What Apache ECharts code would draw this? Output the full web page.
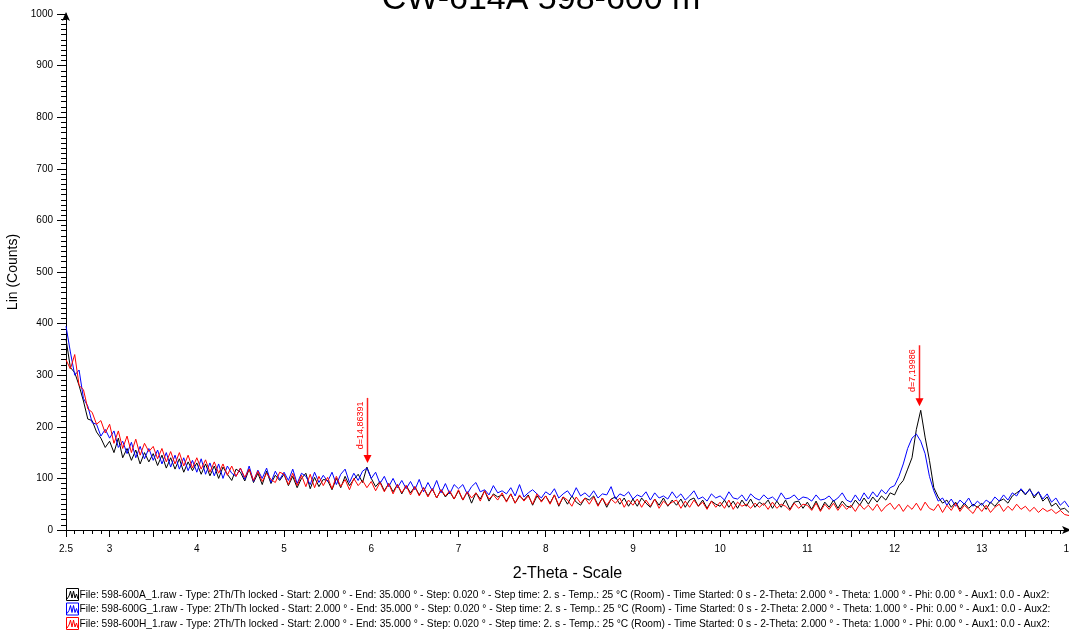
<!DOCTYPE html>
<html>
<head>
<meta charset="utf-8">
<script src="https://cdn.jsdelivr.net/npm/echarts@6/dist/echarts.min.js"></script>
<style>html,body{margin:0;padding:0;background:#fff}#c{width:1069px;height:633px}</style>
</head>
<body>
<div id="c"></div>
<script>
// 2-Theta sampling of the traces (degrees)
const thetaStart = 2.5;
const thetaStep = 0.05;
// Counts, file 598-600A (black)
const countsA = [
370,315,305,280,250,215,212,190,178,160,
172,150,178,140,158,135,155,128,150,132,
148,125,145,120,140,118,138,112,132,115,
130,108,128,105,124,100,122,108,96,118,
112,95,118,92,110,88,114,90,106,96,
108,86,104,82,100,110,80,102,84,98,
96,78,100,82,104,86,98,108,92,122,
100,84,94,76,90,74,88,70,86,72,
84,68,82,66,80,62,78,64,74,60,
76,58,74,52,72,60,76,56,70,64,
68,56,70,52,66,58,68,48,66,56,
66,52,68,46,64,50,66,54,48,62,
58,66,48,62,44,60,64,50,62,46,
60,46,62,52,44,60,48,62,46,58,
48,60,44,58,62,46,58,42,56,50,
46,58,44,56,42,58,46,60,44,54,
48,58,42,56,44,58,40,54,56,42,
54,40,56,38,54,44,58,42,56,46,
44,58,48,62,50,64,54,66,58,72,
68,86,96,118,140,195,232,180,135,82,
64,52,58,44,54,40,52,42,50,44,
52,40,54,46,56,60,52,66,72,78,
68,80,62,74,56,64,46,52,40,42,
34];
// Counts, file 598-600G (blue)
const countsG = [
395,345,300,310,255,240,208,205,182,195,
178,192,160,172,148,170,140,162,138,158,
135,155,128,150,122,145,118,140,115,135,
112,138,108,130,105,128,100,124,110,104,
120,98,124,94,116,100,120,92,114,98,
112,96,118,90,110,104,88,112,92,106,
94,112,88,108,118,92,110,96,114,120,
100,112,90,104,84,100,82,96,80,94,
78,98,74,92,76,96,72,90,70,88,
80,88,70,84,92,74,78,68,86,72,
76,70,82,66,88,64,72,78,70,62,
74,68,80,62,70,76,64,82,66,72,
64,76,62,70,68,84,60,70,66,74,
60,68,64,74,58,72,62,66,60,74,
62,70,58,66,76,60,64,56,70,62,
66,58,74,62,60,68,56,70,62,58,
68,60,64,56,72,60,62,68,58,64,
62,56,68,58,60,66,56,62,72,58,
54,68,56,72,60,74,64,78,70,82,
86,104,128,158,178,186,172,148,104,76,
56,62,48,60,46,58,50,62,46,56,
48,58,52,64,56,68,58,72,66,80,
70,78,66,74,60,70,54,62,48,56,
44];
// Counts, file 598-600H (red)
const countsH = [
330,312,340,280,272,235,228,205,212,188,
205,168,192,158,182,150,176,145,168,152,
162,138,158,132,152,128,150,124,145,120,
140,118,136,112,132,110,128,106,124,104,
120,102,118,96,114,94,110,98,92,112,
108,88,110,86,106,84,108,82,104,86,
102,80,104,84,98,78,100,86,96,82,
94,76,92,74,90,70,88,72,86,68,
84,66,82,64,80,62,78,66,76,60,
78,58,74,62,72,56,76,60,68,58,
72,54,70,52,68,56,66,50,70,54,
66,50,68,48,64,58,46,64,52,62,
50,64,46,62,48,60,52,62,44,58,
48,60,44,58,46,60,42,56,48,54,
58,42,56,44,58,46,54,40,56,44,
54,42,58,40,54,46,50,42,52,44,
52,40,54,42,50,46,38,52,42,50,
48,38,52,36,50,40,52,38,50,40,
48,36,50,40,48,38,50,36,46,52,
40,50,36,48,40,52,38,54,42,38,
50,34,48,38,52,36,48,40,32,46,
36,48,34,44,50,36,46,38,50,40,
46,36,44,34,42,36,40,32,38,30,
28];
// Peak annotations: 2-Theta position, top of marker line (counts), arrow tip (counts), label
const annTheta = [5.955, 12.278];
const annTop = [256, 358];
const annTip = [130, 240];
const annLabels = ['d=14,86391', 'd=7,19986'];
// Legend / files
const fileNames = ['598-600A_1.raw', '598-600G_1.raw', '598-600H_1.raw'];
const fileColors = ['#000000', '#0000ff', '#ff0000'];
const legendTail = ' - Type: 2Th/Th locked - Start: 2.000 ° - End: 35.000 ° - Step: 0.020 ° - Step time: 2. s - Temp.: 25 °C (Room) - Time Started: 0 s - 2-Theta: 2.000 ° - Theta: 1.000 ° - Phi: 0.00 ° - Aux1: 0.0 - Aux2:';
const titleText = 'CW-614A 598-600 m';

const FONT = '"Liberation Sans", Arial, sans-serif';
function pairs(arr) { return arr.map((v, i) => [+(thetaStart + i * thetaStep).toFixed(3), v]); }

const chart = echarts.init(document.getElementById('c'), null, {renderer: 'canvas'});
const seriesData = [countsA, countsG, countsH];
chart.setOption({
  animation: false,
  textStyle: {fontFamily: FONT},
  grid: {left: 66, right: 0, top: 14, bottom: 103, containLabel: false, outerBoundsMode: 'none'},
  xAxis: {
    type: 'value', min: 2.5, max: 14, interval: 0.5,
    name: '2-Theta - Scale', nameLocation: 'middle', nameGap: 36,
    nameTextStyle: {fontSize: 16, color: '#000', fontFamily: FONT},
    axisLine: {show: true, onZero: false, lineStyle: {color: '#000', width: 1}, symbol: ['none', 'arrow'], symbolSize: [6, 9], symbolOffset: [0, 2]},
    axisTick: {show: true, inside: false, length: 7, lineStyle: {color: '#000'}},
    minorTick: {show: true, splitNumber: 5, length: 4, lineStyle: {color: '#000'}},
    splitLine: {show: false},
    axisLabel: {fontSize: 10, color: '#000', margin: 14, fontFamily: FONT, showMaxLabel: true, showMinLabel: true,
      formatter: v => (Math.abs(v - 2.5) < 1e-6 || Math.abs(v - Math.round(v)) < 1e-6) ? String(+v.toFixed(1)) : ''}
  },
  yAxis: {
    type: 'value', min: 0, max: 1000, interval: 100,
    name: 'Lin (Counts)', nameLocation: 'middle', nameGap: 44,
    nameTextStyle: {fontSize: 14, color: '#000', fontFamily: FONT},
    axisLine: {show: true, lineStyle: {color: '#000', width: 1}, symbol: ['none', 'arrow'], symbolSize: [6, 9], symbolOffset: [0, 2]},
    axisTick: {show: true, inside: false, length: 9, lineStyle: {color: '#000'}},
    minorTick: {show: true, splitNumber: 10, length: 5, lineStyle: {color: '#000'}},
    splitLine: {show: false},
    axisLabel: {fontSize: 10, color: '#000', margin: 13, fontFamily: FONT, formatter: v => String(v)}
  },
  series: seriesData.map((d, i) => ({
    type: 'line', data: pairs(d), symbol: 'none', smooth: false,
    lineStyle: {color: fileColors[i], width: 1}, itemStyle: {color: fileColors[i]},
    clip: true, z: 2 + i
  }))
});

// Build graphics: title, peak markers, legend
const g = [];
g.push({type: 'text', x: 541, y: 0, z: 10,
  style: {text: titleText, fontSize: 34, fontFamily: FONT, fill: '#000', align: 'center', verticalAlign: 'middle'}});
annTheta.forEach((t, i) => {
  const top = chart.convertToPixel({gridIndex: 0}, [t, annTop[i]]);
  const tip = chart.convertToPixel({gridIndex: 0}, [t, annTip[i]]);
  const x = Math.round(top[0]);
  g.push({type: 'rect', z: 10, shape: {x: x - 0.25, y: top[1], width: 1.5, height: (tip[1] - 7) - top[1]}, style: {fill: '#ff2020', stroke: null}});
  g.push({type: 'polygon', z: 10, shape: {points: [[x - 3.5, tip[1] - 8], [x + 4.5, tip[1] - 8], [x + 0.5, tip[1]]]}, style: {fill: '#ff0000', stroke: null}});
  g.push({type: 'text', z: 10, x: x - 6, y: (top[1] + tip[1] - 8) / 2 - 1, rotation: Math.PI / 2,
    style: {text: annLabels[i], fontSize: 9, fontFamily: FONT, fill: '#ff0000', align: 'center', verticalAlign: 'middle'}});
});
fileNames.forEach((f, i) => {
  const y = 595 + i * 14.5;
  const c = fileColors[i];
  g.push({type: 'rect', z: 10, shape: {x: 66.5, y: y - 6.5, width: 12, height: 12}, style: {fill: '#fff', stroke: c, lineWidth: 1}});
  g.push({type: 'polyline', z: 11, shape: {points: [[67, y + 4], [69, y + 1], [70.5, y - 4], [72, y + 3], [73.5, y - 4], [75, y + 3], [76.5, y - 1], [78, y + 4]]}, style: {stroke: c, lineWidth: 1, fill: null}});
  g.push({type: 'text', z: 10, x: 79.5, y: y, style: {text: 'File: ' + f + legendTail, fontSize: 10.2, fontFamily: FONT, fill: '#000', align: 'left', verticalAlign: 'middle'}});
});
chart.setOption({graphic: g});
</script>
</body>
</html>
